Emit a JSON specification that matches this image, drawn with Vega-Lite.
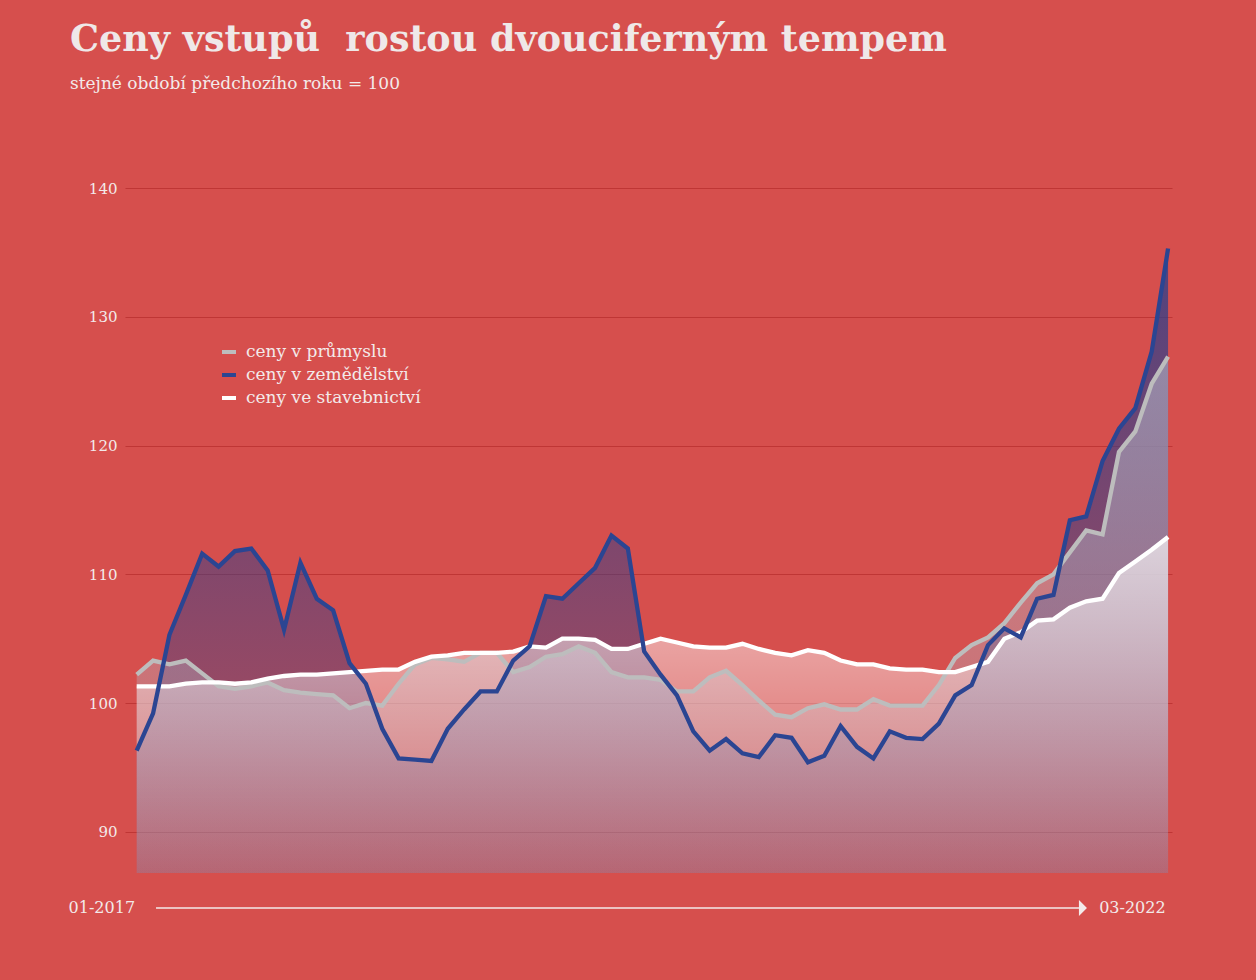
{
  "$schema": "https://vega.github.io/schema/vega-lite/v6.json",
  "autosize": {"type": "none"},
  "width": 1047,
  "height": 685,
  "padding": {"left": 125, "top": 188, "right": 84, "bottom": 107},
  "background": "#d64f4d",
  "title": {
    "text": "Ceny vstupů\u00a0 rostou dvouciferným tempem",
    "subtitle": "stejné období předchozího roku = 100",
    "anchor": "start",
    "frame": "group",
    "dx": -55,
    "offset": 89,
    "font": "DejaVu Serif",
    "fontSize": 36.5,
    "fontWeight": "bold",
    "color": "#efe8e8",
    "subtitleFont": "DejaVu Serif",
    "subtitleFontSize": 17,
    "subtitleColor": "#f3eaea",
    "subtitlePadding": 18
  },
  "config": {"view": {"stroke": null}},
  "data": {"values": [
    {"t": 0, "mesic": "2017-01", "prumysl": 102.2, "zemedelstvi": 96.3, "stavebnictvi": 101.3},
    {"t": 1, "mesic": "2017-02", "prumysl": 103.3, "zemedelstvi": 99.2, "stavebnictvi": 101.3},
    {"t": 2, "mesic": "2017-03", "prumysl": 103.0, "zemedelstvi": 105.3, "stavebnictvi": 101.3},
    {"t": 3, "mesic": "2017-04", "prumysl": 103.3, "zemedelstvi": 108.4, "stavebnictvi": 101.5},
    {"t": 4, "mesic": "2017-05", "prumysl": 102.3, "zemedelstvi": 111.6, "stavebnictvi": 101.6},
    {"t": 5, "mesic": "2017-06", "prumysl": 101.3, "zemedelstvi": 110.6, "stavebnictvi": 101.6},
    {"t": 6, "mesic": "2017-07", "prumysl": 101.1, "zemedelstvi": 111.8, "stavebnictvi": 101.5},
    {"t": 7, "mesic": "2017-08", "prumysl": 101.3, "zemedelstvi": 112.0, "stavebnictvi": 101.6},
    {"t": 8, "mesic": "2017-09", "prumysl": 101.6, "zemedelstvi": 110.3, "stavebnictvi": 101.9},
    {"t": 9, "mesic": "2017-10", "prumysl": 101.0, "zemedelstvi": 105.7, "stavebnictvi": 102.1},
    {"t": 10, "mesic": "2017-11", "prumysl": 100.8, "zemedelstvi": 110.9, "stavebnictvi": 102.2},
    {"t": 11, "mesic": "2017-12", "prumysl": 100.7, "zemedelstvi": 108.1, "stavebnictvi": 102.2},
    {"t": 12, "mesic": "2018-01", "prumysl": 100.6, "zemedelstvi": 107.2, "stavebnictvi": 102.3},
    {"t": 13, "mesic": "2018-02", "prumysl": 99.6, "zemedelstvi": 103.1, "stavebnictvi": 102.4},
    {"t": 14, "mesic": "2018-03", "prumysl": 100.0, "zemedelstvi": 101.5, "stavebnictvi": 102.5},
    {"t": 15, "mesic": "2018-04", "prumysl": 99.8, "zemedelstvi": 98.0, "stavebnictvi": 102.6},
    {"t": 16, "mesic": "2018-05", "prumysl": 101.5, "zemedelstvi": 95.7, "stavebnictvi": 102.6},
    {"t": 17, "mesic": "2018-06", "prumysl": 103.0, "zemedelstvi": 95.6, "stavebnictvi": 103.2},
    {"t": 18, "mesic": "2018-07", "prumysl": 103.5, "zemedelstvi": 95.5, "stavebnictvi": 103.6},
    {"t": 19, "mesic": "2018-08", "prumysl": 103.4, "zemedelstvi": 98.0, "stavebnictvi": 103.7},
    {"t": 20, "mesic": "2018-09", "prumysl": 103.2, "zemedelstvi": 99.5, "stavebnictvi": 103.9},
    {"t": 21, "mesic": "2018-10", "prumysl": 103.9, "zemedelstvi": 100.9, "stavebnictvi": 103.9},
    {"t": 22, "mesic": "2018-11", "prumysl": 103.9, "zemedelstvi": 100.9, "stavebnictvi": 103.9},
    {"t": 23, "mesic": "2018-12", "prumysl": 102.4, "zemedelstvi": 103.3, "stavebnictvi": 104.0},
    {"t": 24, "mesic": "2019-01", "prumysl": 102.8, "zemedelstvi": 104.4, "stavebnictvi": 104.4},
    {"t": 25, "mesic": "2019-02", "prumysl": 103.6, "zemedelstvi": 108.3, "stavebnictvi": 104.3},
    {"t": 26, "mesic": "2019-03", "prumysl": 103.8, "zemedelstvi": 108.1, "stavebnictvi": 105.0},
    {"t": 27, "mesic": "2019-04", "prumysl": 104.4, "zemedelstvi": 109.3, "stavebnictvi": 105.0},
    {"t": 28, "mesic": "2019-05", "prumysl": 103.9, "zemedelstvi": 110.5, "stavebnictvi": 104.9},
    {"t": 29, "mesic": "2019-06", "prumysl": 102.4, "zemedelstvi": 113.0, "stavebnictvi": 104.2},
    {"t": 30, "mesic": "2019-07", "prumysl": 102.0, "zemedelstvi": 112.0, "stavebnictvi": 104.2},
    {"t": 31, "mesic": "2019-08", "prumysl": 102.0, "zemedelstvi": 104.0, "stavebnictvi": 104.6},
    {"t": 32, "mesic": "2019-09", "prumysl": 101.8, "zemedelstvi": 102.2, "stavebnictvi": 105.0},
    {"t": 33, "mesic": "2019-10", "prumysl": 100.9, "zemedelstvi": 100.6, "stavebnictvi": 104.7},
    {"t": 34, "mesic": "2019-11", "prumysl": 100.9, "zemedelstvi": 97.8, "stavebnictvi": 104.4},
    {"t": 35, "mesic": "2019-12", "prumysl": 102.0, "zemedelstvi": 96.3, "stavebnictvi": 104.3},
    {"t": 36, "mesic": "2020-01", "prumysl": 102.5, "zemedelstvi": 97.2, "stavebnictvi": 104.3},
    {"t": 37, "mesic": "2020-02", "prumysl": 101.4, "zemedelstvi": 96.1, "stavebnictvi": 104.6},
    {"t": 38, "mesic": "2020-03", "prumysl": 100.2, "zemedelstvi": 95.8, "stavebnictvi": 104.2},
    {"t": 39, "mesic": "2020-04", "prumysl": 99.1, "zemedelstvi": 97.5, "stavebnictvi": 103.9},
    {"t": 40, "mesic": "2020-05", "prumysl": 98.9, "zemedelstvi": 97.3, "stavebnictvi": 103.7},
    {"t": 41, "mesic": "2020-06", "prumysl": 99.6, "zemedelstvi": 95.4, "stavebnictvi": 104.1},
    {"t": 42, "mesic": "2020-07", "prumysl": 99.9, "zemedelstvi": 95.9, "stavebnictvi": 103.9},
    {"t": 43, "mesic": "2020-08", "prumysl": 99.5, "zemedelstvi": 98.2, "stavebnictvi": 103.3},
    {"t": 44, "mesic": "2020-09", "prumysl": 99.5, "zemedelstvi": 96.6, "stavebnictvi": 103.0},
    {"t": 45, "mesic": "2020-10", "prumysl": 100.3, "zemedelstvi": 95.7, "stavebnictvi": 103.0},
    {"t": 46, "mesic": "2020-11", "prumysl": 99.8, "zemedelstvi": 97.8, "stavebnictvi": 102.7},
    {"t": 47, "mesic": "2020-12", "prumysl": 99.8, "zemedelstvi": 97.3, "stavebnictvi": 102.6},
    {"t": 48, "mesic": "2021-01", "prumysl": 99.8, "zemedelstvi": 97.2, "stavebnictvi": 102.6},
    {"t": 49, "mesic": "2021-02", "prumysl": 101.4, "zemedelstvi": 98.4, "stavebnictvi": 102.4},
    {"t": 50, "mesic": "2021-03", "prumysl": 103.5, "zemedelstvi": 100.6, "stavebnictvi": 102.4},
    {"t": 51, "mesic": "2021-04", "prumysl": 104.5, "zemedelstvi": 101.4, "stavebnictvi": 102.8},
    {"t": 52, "mesic": "2021-05", "prumysl": 105.1, "zemedelstvi": 104.5, "stavebnictvi": 103.2},
    {"t": 53, "mesic": "2021-06", "prumysl": 106.2, "zemedelstvi": 105.8, "stavebnictvi": 105.0},
    {"t": 54, "mesic": "2021-07", "prumysl": 107.8, "zemedelstvi": 105.1, "stavebnictvi": 105.5},
    {"t": 55, "mesic": "2021-08", "prumysl": 109.3, "zemedelstvi": 108.1, "stavebnictvi": 106.4},
    {"t": 56, "mesic": "2021-09", "prumysl": 110.0, "zemedelstvi": 108.4, "stavebnictvi": 106.5},
    {"t": 57, "mesic": "2021-10", "prumysl": 111.7, "zemedelstvi": 114.2, "stavebnictvi": 107.4},
    {"t": 58, "mesic": "2021-11", "prumysl": 113.4, "zemedelstvi": 114.5, "stavebnictvi": 107.9},
    {"t": 59, "mesic": "2021-12", "prumysl": 113.1, "zemedelstvi": 118.8, "stavebnictvi": 108.1},
    {"t": 60, "mesic": "2022-01", "prumysl": 119.5, "zemedelstvi": 121.3, "stavebnictvi": 110.1},
    {"t": 61, "mesic": "2022-02", "prumysl": 121.1, "zemedelstvi": 122.9, "stavebnictvi": 111.0},
    {"t": 62, "mesic": "2022-03", "prumysl": 124.8, "zemedelstvi": 127.3, "stavebnictvi": 111.9},
    {"t": 63, "mesic": "2022-04", "prumysl": 126.9, "zemedelstvi": 135.3, "stavebnictvi": 112.9}
  ]},
  "layer": [
    {
      "mark": {"type": "area", "fill": {"gradient": "linear", "x1": 0, "y1": 0, "x2": 0, "y2": 1, "stops": [
        {"offset": 0, "color": "rgba(42,63,140,0.78)"},
        {"offset": 1, "color": "rgba(42,63,140,0.2)"}
      ]}},
      "encoding": {
        "x": {"field": "t", "type": "quantitative", "scale": {"domain": [-0.715, 63.24], "nice": false, "zero": false}, "axis": null},
        "y": {"field": "zemedelstvi", "type": "quantitative", "title": null,
              "scale": {"domain": [86.8, 140], "nice": false, "zero": false},
              "axis": {"values": [90, 100, 110, 120, 130, 140], "domain": false, "ticks": false, "labelPadding": 8,
                       "labelFont": "DejaVu Serif", "labelFontSize": 15, "labelColor": "#f3eaea",
                       "gridColor": "#bd3333", "gridWidth": 1, "gridOpacity": 0.9}},
        "y2": {"datum": 86.8}
      }
    },
    {
      "mark": {"type": "area", "fill": {"gradient": "linear", "x1": 0, "y1": 0, "x2": 0, "y2": 1, "stops": [
        {"offset": 0, "color": "rgba(182,182,198,0.6)"},
        {"offset": 1, "color": "rgba(182,182,198,0.2)"}
      ]}},
      "encoding": {
        "x": {"field": "t", "type": "quantitative"},
        "y": {"field": "prumysl", "type": "quantitative", "title": null},
        "y2": {"datum": 86.8}
      }
    },
    {
      "mark": {"type": "area", "fill": {"gradient": "linear", "x1": 0, "y1": 0, "x2": 0, "y2": 1, "stops": [
        {"offset": 0, "color": "rgba(255,255,255,0.66)"},
        {"offset": 0.35, "color": "rgba(255,255,255,0.45)"},
        {"offset": 1, "color": "rgba(255,255,255,0.03)"}
      ]}},
      "encoding": {
        "x": {"field": "t", "type": "quantitative"},
        "y": {"field": "stavebnictvi", "type": "quantitative", "title": null},
        "y2": {"datum": 86.8}
      }
    },
    {
      "transform": [{"fold": ["prumysl", "stavebnictvi", "zemedelstvi"], "as": ["rada", "hodnota"]}],
      "mark": {"type": "line", "strokeWidth": 4.3},
      "encoding": {
        "x": {"field": "t", "type": "quantitative"},
        "y": {"field": "hodnota", "type": "quantitative", "title": null},
        "color": {"field": "rada", "type": "nominal",
          "scale": {"domain": ["prumysl", "zemedelstvi", "stavebnictvi"], "range": ["#bdbdbd", "#2b4592", "#ffffff"]},
          "legend": {"orient": "none", "legendX": 95, "legendY": 155, "title": null, "padding": 0,
            "symbolType": "stroke", "symbolStrokeWidth": 4, "symbolSize": 196, "rowPadding": 6, "labelOffset": 8,
            "labelFont": "DejaVu Serif", "labelFontSize": 17, "labelColor": "#f3eaea", "labelLimit": 400,
            "labelExpr": "datum.value == 'prumysl' ? 'ceny v průmyslu' : datum.value == 'zemedelstvi' ? 'ceny v zemědělství' : 'ceny ve stavebnictví'"}}
      }
    },
    {
      "data": {"values": [{}]},
      "mark": {"type": "rule", "color": "#f3eaea", "strokeWidth": 1.5},
      "encoding": {
        "x": {"datum": 1.18, "type": "quantitative"},
        "x2": {"datum": 57.63},
        "y": {"datum": 84.08, "type": "quantitative"}
      }
    },
    {
      "data": {"values": [{}]},
      "mark": {"type": "point", "shape": "M-0.5,-1L0.5,0L-0.5,1Z", "filled": true, "size": 256, "color": "#f3eaea", "opacity": 1},
      "encoding": {
        "x": {"datum": 57.8, "type": "quantitative"},
        "y": {"datum": 84.08, "type": "quantitative"}
      }
    },
    {
      "data": {"values": [{}]},
      "mark": {"type": "text", "text": "01-2017", "align": "right", "baseline": "middle", "font": "DejaVu Serif", "fontSize": 16, "color": "#f3eaea"},
      "encoding": {
        "x": {"datum": -0.1, "type": "quantitative"},
        "y": {"datum": 84.08, "type": "quantitative"}
      }
    },
    {
      "data": {"values": [{}]},
      "mark": {"type": "text", "text": "03-2022", "align": "left", "baseline": "middle", "font": "DejaVu Serif", "fontSize": 16, "color": "#f3eaea"},
      "encoding": {
        "x": {"datum": 58.79, "type": "quantitative"},
        "y": {"datum": 84.08, "type": "quantitative"}
      }
    }
  ]
}
